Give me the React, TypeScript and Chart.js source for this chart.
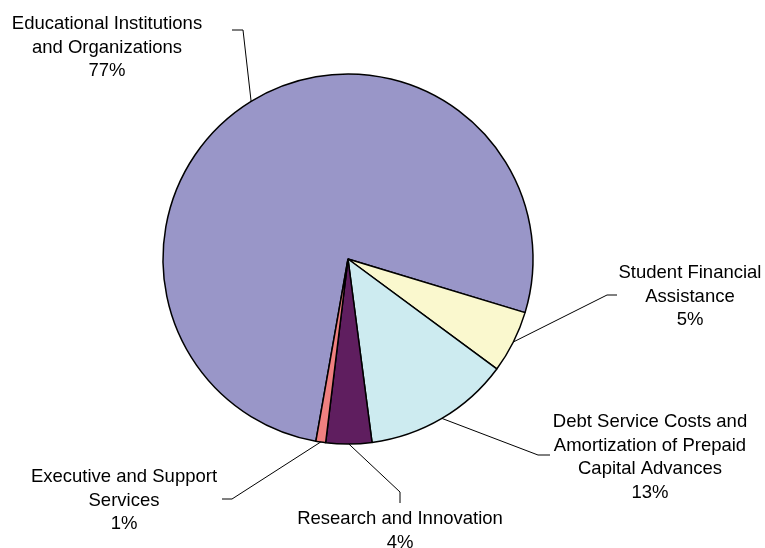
import { useEffect, useRef } from "react";
import { Chart, ArcElement, PieController } from "chart.js";

Chart.register(ArcElement, PieController);

// ---- data ----
const categories = [
  "Educational Institutions and Organizations",
  "Student Financial Assistance",
  "Debt Service Costs and Amortization of Prepaid Capital Advances",
  "Research and Innovation",
  "Executive and Support Services",
];
const labelLines = [
  ["Educational Institutions", "and Organizations"],
  ["Student Financial", "Assistance"],
  ["Debt Service Costs and", "Amortization of Prepaid", "Capital Advances"],
  ["Research and Innovation"],
  ["Executive and Support", "Services"],
];
const values = [76.9, 5.45, 12.8, 4.0, 0.85];
const colors = ["#9996C8", "#FAF8CE", "#CDEBF0", "#5F1E5F", "#F08080"];

// ---- label layout (offsets from the pie centre, px) ----
const labelLayout = [
  { elbow: [-105, -229], end: [-116, -229], text: [-241, -235] },
  { elbow: [259, 36], end: [269, 36], text: [342, 14] },
  { elbow: [190, 196], end: [202, 196], text: [302, 163] },
  { elbow: [52, 233], end: [52, 244], text: [52, 260] },
  { elbow: [-116, 240], end: [-126, 240], text: [-224, 218] },
];
const LINE_HEIGHT = 23.5;
const FONT = '18.5px "Liberation Sans", Arial, sans-serif';

export default function App() {
  const ref = useRef<HTMLCanvasElement>(null);

  useEffect(() => {
    if (!ref.current) return;
    const total = values.reduce((a, b) => a + b, 0);

    const leaderLabels = {
      id: "leaderLabels",
      afterDatasetsDraw(chart: any) {
        const ctx = chart.ctx as CanvasRenderingContext2D;
        const meta = chart.getDatasetMeta(0);
        ctx.save();
        meta.data.forEach((arc: any, i: number) => {
          const { x, y, startAngle, endAngle, outerRadius } = arc.getProps(
            ["x", "y", "startAngle", "endAngle", "outerRadius"],
            true
          );
          const mid = (startAngle + endAngle) / 2;
          const px = x + Math.cos(mid) * outerRadius;
          const py = y + Math.sin(mid) * outerRadius;
          const lay = labelLayout[i];
          ctx.beginPath();
          ctx.strokeStyle = "#000";
          ctx.lineWidth = 1;
          ctx.moveTo(px, py);
          ctx.lineTo(x + lay.elbow[0], y + lay.elbow[1]);
          ctx.lineTo(x + lay.end[0], y + lay.end[1]);
          ctx.stroke();

          const pct = Math.round((values[i] / total) * 100) + "%";
          const lines = [...labelLines[i], pct];
          ctx.fillStyle = "#000";
          ctx.font = FONT;
          ctx.textAlign = "center";
          ctx.textBaseline = "middle";
          lines.forEach((t, k) => {
            ctx.fillText(t, x + lay.text[0], y + lay.text[1] + k * LINE_HEIGHT);
          });
        });
        ctx.restore();
      },
    };

    const chart = new Chart(ref.current, {
      type: "pie",
      data: {
        labels: categories,
        datasets: [
          {
            data: values,
            backgroundColor: colors,
            borderColor: "#000",
            borderWidth: 1.5,
            hoverOffset: 0,
            offset: 0,
          },
        ],
      },
      options: {
        responsive: false,
        maintainAspectRatio: false,
        animation: false,
        events: [],
        rotation: 190,
        radius: 185,
        layout: { padding: { left: 162, right: 231, top: 73, bottom: 103 } },
        plugins: {
          legend: { display: false },
          tooltip: { enabled: false },
        },
      } as any,
      plugins: [leaderLabels],
    });
    return () => chart.destroy();
  }, []);

  return (
    <div
      style={{
        position: "fixed",
        left: 0,
        top: 0,
        width: 765,
        height: 548,
        background: "#fff",
      }}
    >
      <canvas
        ref={ref}
        width={765}
        height={548}
        style={{ display: "block", width: 765, height: 548 }}
      />
    </div>
  );
}
